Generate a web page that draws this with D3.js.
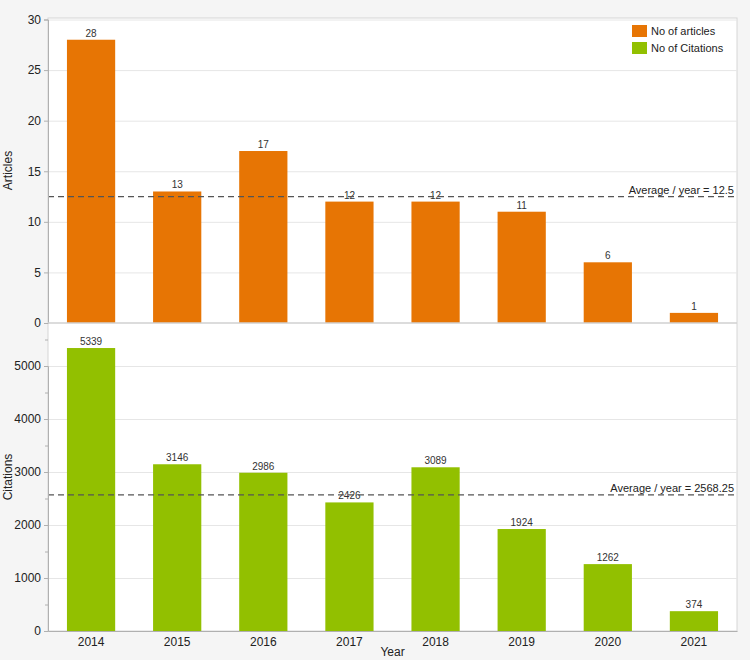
<!DOCTYPE html>
<html lang="en">
  <head>
    <meta charset="utf-8" />
    <script src="https://d3js.org/d3.v7.min.js"></script>
    <style>
      body { margin: 0; background: #f5f5f5; }
      text { font-family: "Liberation Sans", Arial, sans-serif; fill: #222; }
      .grid line { stroke: #e6e6e6; }
      .grid path { display: none; }
      .axis path, .axis line { stroke: #b0b0b0; }
    </style>
  </head>
  <body>
    <div id="chart"></div>
    <script>
      // data
      var years = ["2014", "2015", "2016", "2017", "2018", "2019", "2020", "2021"];
      var articles = [28, 13, 17, 12, 12, 11, 6, 1];
      var citations = [5339, 3146, 2986, 2426, 3089, 1924, 1262, 374];
      var articlesAvg = 12.5;
      var citationsAvg = 2568.25;
      var articleTicks = [0, 5, 10, 15, 20, 25, 30];
      var citationTicks = [0, 1000, 2000, 3000, 4000, 5000];
      var citationMinor = [500, 1500, 2500, 3500, 4500, 5500];

      var W = 750, H = 660;
      var left = 48, right = 737;
      var topY = 18, midY = 323, botY = 631;

      var svg = d3.select("#chart").append("svg")
        .attr("width", W).attr("height", H);

      // white plot area
      svg.append("rect")
        .attr("x", left).attr("y", topY)
        .attr("width", right - left).attr("height", botY - topY)
        .attr("fill", "#fff")
        .attr("stroke", "#d6d6d6");

      var x = d3.scaleBand().domain(years).range([left, right])
        .paddingInner(0.44).paddingOuter(0.22);

      var yA = d3.scaleLinear().domain([0, 30]).range([midY, 19.5]);
      var yC = d3.scaleLinear().domain([0, 5000]).range([botY, 366]);

      // ---- grid ----
      svg.append("g").attr("class", "grid")
        .attr("transform", "translate(" + left + ",0)")
        .call(d3.axisLeft(yA).tickValues(articleTicks.slice(1)).tickSize(-(right - left)).tickFormat(""));
      svg.append("g").attr("class", "grid")
        .attr("transform", "translate(" + left + ",0)")
        .call(d3.axisLeft(yC).tickValues(citationTicks.slice(1)).tickSize(-(right - left)).tickFormat(""));

      // ---- bars ----
      svg.append("g").selectAll("rect")
        .data(articles).enter().append("rect")
        .attr("x", function (d, i) { return x(years[i]); })
        .attr("y", function (d) { return yA(d); })
        .attr("width", x.bandwidth())
        .attr("height", function (d) { return yA(0) - yA(d); })
        .attr("fill", "#e77504");

      svg.append("g").selectAll("rect")
        .data(citations).enter().append("rect")
        .attr("x", function (d, i) { return x(years[i]); })
        .attr("y", function (d) { return yC(d); })
        .attr("width", x.bandwidth())
        .attr("height", function (d) { return yC(0) - yC(d); })
        .attr("fill", "#92c000");

      // value labels
      function valueLabels(vals, y) {
        svg.append("g").selectAll("text")
          .data(vals).enter().append("text")
          .attr("x", function (d, i) { return x(years[i]) + x.bandwidth() / 2; })
          .attr("y", function (d) { return y(d) - 3; })
          .attr("text-anchor", "middle")
          .style("font-size", "10px")
          .style("fill", "#333")
          .text(function (d) { return d; });
      }
      valueLabels(articles, yA);
      valueLabels(citations, yC);

      // average lines
      function avgLine(v, y, label) {
        svg.append("line")
          .attr("x1", left).attr("x2", right)
          .attr("y1", y(v)).attr("y2", y(v))
          .attr("stroke", "#555").attr("stroke-width", 1.2)
          .attr("stroke-dasharray", "6,4");
        svg.append("text")
          .attr("x", right - 3).attr("y", y(v) - 3)
          .attr("text-anchor", "end")
          .style("font-size", "11px")
          .text(label);
      }
      avgLine(articlesAvg, yA, "Average / year = " + articlesAvg);
      avgLine(citationsAvg, yC, "Average / year = " + citationsAvg);

      // ---- axes ----
      svg.append("g").attr("class", "axis")
        .attr("transform", "translate(" + left + ",0)")
        .call(d3.axisLeft(yA).tickValues(articleTicks).tickSize(4).tickPadding(3).tickFormat(d3.format("d")))
        .call(function (g) { g.selectAll("text").style("font-size", "12px"); });
      svg.append("g").attr("class", "axis")
        .attr("transform", "translate(" + left + ",0)")
        .call(d3.axisLeft(yC).tickValues(citationTicks).tickSize(4).tickPadding(3).tickFormat(d3.format("d")))
        .call(function (g) { g.selectAll("text").style("font-size", "12px"); });
      svg.append("g").attr("class", "axis")
        .attr("transform", "translate(" + left + ",0)")
        .call(d3.axisLeft(yC).tickValues(citationMinor).tickSize(3).tickFormat(""))
        .call(function (g) { g.select("path").remove(); });

      // baseline of top panel
      svg.append("line")
        .attr("x1", left).attr("x2", right)
        .attr("y1", midY).attr("y2", midY)
        .attr("stroke", "#d0d0d0").attr("stroke-width", 1.5);

      svg.append("g").attr("class", "axis")
        .attr("transform", "translate(0," + botY + ")")
        .call(d3.axisBottom(x).tickSize(0).tickPadding(6))
        .call(function (g) { g.selectAll("text").style("font-size", "12px"); });

      // axis titles
      svg.append("text")
        .attr("transform", "translate(12," + (topY + midY) / 2 + ") rotate(-90)")
        .attr("text-anchor", "middle")
        .style("font-size", "12px")
        .text("Articles");
      svg.append("text")
        .attr("transform", "translate(12," + (midY + botY) / 2 + ") rotate(-90)")
        .attr("text-anchor", "middle")
        .style("font-size", "12px")
        .text("Citations");
      svg.append("text")
        .attr("x", (left + right) / 2).attr("y", 656)
        .attr("text-anchor", "middle")
        .style("font-size", "12px")
        .text("Year");

      // legend
      var legend = [["No of articles", "#e77504"], ["No of Citations", "#92c000"]];
      var lg = svg.append("g").attr("transform", "translate(632,25)");
      lg.selectAll("rect").data(legend).enter().append("rect")
        .attr("x", 0).attr("y", function (d, i) { return i * 17; })
        .attr("width", 15).attr("height", 12)
        .attr("fill", function (d) { return d[1]; });
      lg.selectAll("text").data(legend).enter().append("text")
        .attr("x", 19).attr("y", function (d, i) { return i * 17 + 10; })
        .style("font-size", "11px")
        .text(function (d) { return d[0]; });
    </script>
  </body>
</html>
